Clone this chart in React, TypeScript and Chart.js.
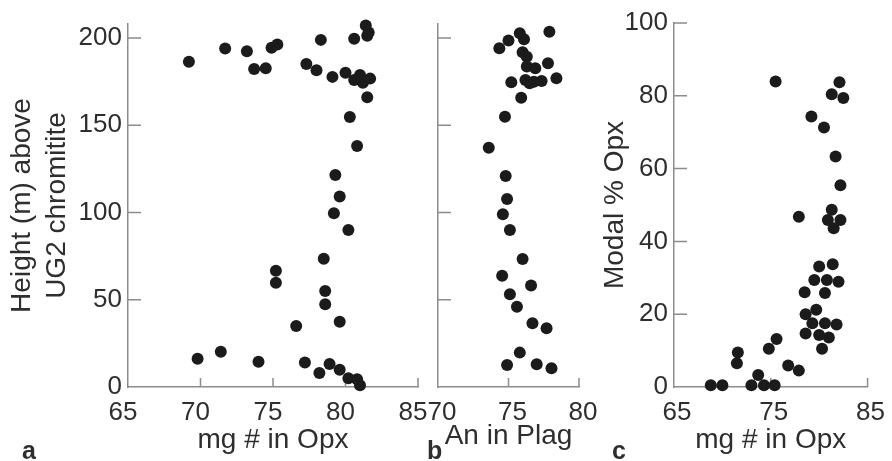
import React, { useEffect, useRef } from 'react';
import { Chart, registerables } from 'chart.js';

Chart.register(...registerables);

const FONT = '"Liberation Sans", Arial, Helvetica, sans-serif';
const TEXT = '#2e2e2e';
const AXIS = '#8c8c8c';
const DOT = '#1b1b1b';

// Panel a: mg # in Opx vs height (m) above UG2 chromitite
const aMg = [69.2, 71.7, 73.2, 73.7, 74.5, 74.9, 75.3, 77.3, 78.0, 78.3, 79.1, 80.6, 80.0, 81.4, 81.6, 81.5, 80.6, 81.0, 81.2, 81.7, 81.5, 80.3, 80.8, 79.3, 79.6, 79.2, 80.2, 75.2, 75.2, 78.5, 78.6, 78.6, 79.6, 76.6, 69.8, 71.4, 74.0, 77.2, 78.2, 78.9, 79.6, 80.2, 80.8, 81.0];
const aHeight = [186.4, 193.9, 192.4, 182.2, 182.6, 194.4, 196.2, 185.1, 181.5, 198.9, 177.7, 199.6, 180.1, 207.1, 203.2, 201.3, 175.9, 178.8, 174.4, 176.7, 166.0, 154.7, 138.1, 121.5, 109.1, 99.5, 90.0, 66.6, 59.8, 73.5, 55.0, 47.4, 37.4, 35.0, 16.2, 20.2, 14.5, 14.1, 8.0, 13.2, 9.9, 5.0, 4.4, 1.0];

// Panel b: An in Plag vs height
const bAn = [77.9, 75.8, 76.1, 75.0, 74.35, 76.0, 76.3, 77.8, 76.3, 76.9, 78.4, 75.2, 76.2, 76.8, 77.35, 76.5, 75.9, 74.75, 73.6, 74.8, 74.9, 74.6, 75.1, 76.0, 74.55, 76.6, 75.1, 75.6, 76.7, 77.7, 75.8, 74.9, 77.0, 78.05];
const bHeight = [203.6, 202.7, 199.3, 198.5, 194.1, 191.8, 189.3, 185.5, 183.6, 182.6, 176.9, 174.6, 175.9, 174.9, 175.4, 174.0, 165.8, 154.9, 137.1, 120.9, 107.7, 99.0, 90.0, 73.4, 63.8, 58.1, 53.1, 46.0, 36.5, 33.6, 19.7, 12.6, 13.0, 10.7];

// Panel c: mg # in Opx vs modal % Opx
const cMg = [75.5, 82.1, 81.3, 82.5, 79.2, 80.5, 81.7, 82.2, 77.9, 81.3, 80.9, 82.2, 81.5, 80.0, 81.4, 79.5, 80.8, 82.0, 80.6, 78.5, 78.6, 79.7, 79.3, 80.6, 81.8, 78.6, 80.0, 81.0, 80.3, 75.6, 74.8, 71.6, 71.5, 76.8, 77.9, 73.7, 68.8, 70.0, 73.0, 74.3, 75.4];
const cModal = [83.9, 83.7, 80.4, 79.4, 74.3, 71.3, 63.3, 55.4, 46.8, 48.7, 45.9, 45.9, 43.6, 33.1, 33.7, 29.4, 29.4, 28.9, 25.8, 26.0, 20.0, 21.2, 17.5, 17.5, 17.2, 14.7, 14.3, 13.6, 10.5, 13.2, 10.5, 9.5, 6.5, 5.9, 4.5, 3.3, 0.5, 0.5, 0.5, 0.5, 0.5];

// Tick values
const heightTicks = [0, 50, 100, 150, 200];
const mgTicksA = [65, 70, 75, 80, 85];
const anTicks = [70, 75, 80];
const mgTicksC = [65, 75, 85];
const modalTicks = [0, 20, 40, 60, 80, 100];

const inwardTicks = {
  id: 'inwardTicks',
  beforeDatasetsDraw(chart: any, _args: any, opts: any) {
    const ctx = chart.ctx;
    const xs = chart.scales.x;
    const ys = chart.scales.y;
    ctx.save();
    ctx.strokeStyle = AXIS;
    ctx.lineWidth = 1.5;
    ctx.beginPath();
    for (const v of opts.xValues || []) {
      const px = xs.getPixelForValue(v);
      ctx.moveTo(px, ys.bottom);
      ctx.lineTo(px, ys.bottom - opts.xLen);
    }
    for (const v of opts.yValues || []) {
      const py = ys.getPixelForValue(v);
      ctx.moveTo(xs.left, py);
      ctx.lineTo(xs.left + opts.yLen, py);
    }
    ctx.stroke();
    ctx.restore();
  },
  afterDraw(chart: any, _args: any, opts: any) {
    if (!opts.label) return;
    const ctx = chart.ctx;
    ctx.save();
    ctx.font = `bold 25px ${FONT}`;
    ctx.fillStyle = TEXT;
    ctx.textAlign = 'left';
    ctx.textBaseline = 'alphabetic';
    ctx.fillText(opts.label, opts.labelX, opts.labelY);
    ctx.restore();
  },
};

type PanelSpec = {
  xs: number[];
  ys: number[];
  xMin: number;
  xMax: number;
  yMin: number;
  yMax: number;
  xTicks: number[];
  yTicks: number[];
  xLabelOffset: number;
  showYLabels: boolean;
  yWidth: number;
  padding: { left: number; right: number; top: number; bottom: number };
  xTitle: string;
  xTitlePad: number;
  yTitle: string | string[] | null;
  yTitleLineHeight: number;
  tickMarksX: number[];
  tickMarksY: number[];
  label: string;
  labelX: number;
  labelY: number;
};

function makeConfig(p: PanelSpec): any {
  return {
    type: 'scatter',
    data: {
      datasets: [
        {
          data: p.xs.map((v, i) => ({ x: v, y: p.ys[i] })),
          backgroundColor: DOT,
          borderWidth: 0,
          pointRadius: 6,
          pointHoverRadius: 6,
          clip: false,
        },
      ],
    },
    options: {
      responsive: false,
      animation: false,
      events: [],
      layout: { padding: p.padding },
      plugins: {
        legend: { display: false },
        tooltip: { enabled: false },
        inwardTicks: {
          xValues: p.tickMarksX,
          yValues: p.tickMarksY,
          xLen: 9,
          yLen: 13,
          label: p.label,
          labelX: p.labelX,
          labelY: p.labelY,
        },
      },
      scales: {
        x: {
          type: 'linear',
          position: 'bottom',
          min: p.xMin,
          max: p.xMax,
          afterBuildTicks: (s: any) => {
            s.ticks = p.xTicks.map((v) => ({ value: v }));
          },
          afterFit: (s: any) => {
            s.height = 70;
          },
          grid: { display: false, drawTicks: false },
          border: { display: true, color: AXIS, width: 1.5 },
          ticks: {
            font: { family: FONT, size: 26 },
            color: TEXT,
            padding: 10,
            maxRotation: 0,
            autoSkip: false,
            labelOffset: p.xLabelOffset,
          },
          title: {
            display: true,
            text: p.xTitle,
            color: TEXT,
            font: { family: FONT, size: 28, lineHeight: 1.2 },
            padding: { top: 0, bottom: p.xTitlePad },
          },
        },
        y: {
          type: 'linear',
          position: 'left',
          min: p.yMin,
          max: p.yMax,
          afterBuildTicks: (s: any) => {
            s.ticks = p.yTicks.map((v) => ({ value: v }));
          },
          afterFit: (s: any) => {
            s.width = p.yWidth;
          },
          grid: { display: false, drawTicks: false },
          border: { display: true, color: AXIS, width: 1.5 },
          ticks: {
            display: p.showYLabels,
            font: { family: FONT, size: 26 },
            color: TEXT,
            padding: 6,
            autoSkip: false,
          },
          title: {
            display: !!p.yTitle,
            text: p.yTitle || '',
            color: TEXT,
            font: { family: FONT, size: 28, lineHeight: p.yTitleLineHeight },
            padding: { top: 4.5, bottom: 0 },
          },
        },
      },
    },
    plugins: [inwardTicks],
  };
}

const W = 892;
const H = 461;

const panels: PanelSpec[] = [
  {
    xs: aMg,
    ys: aHeight,
    xMin: 65,
    xMax: 85,
    yMin: 0,
    yMax: 208,
    xTicks: mgTicksA,
    yTicks: heightTicks,
    xLabelOffset: -5,
    showYLabels: true,
    yWidth: 128,
    padding: { left: 0, right: W - 418, top: 24, bottom: 4 },
    xTitle: 'mg # in Opx',
    xTitlePad: 0,
    yTitle: ['Height (m) above', 'UG2 chromitite'],
    yTitleLineHeight: 1.25,
    tickMarksX: [70, 75, 80, 85],
    tickMarksY: [50, 100, 150, 200],
    label: 'a',
    labelX: 22,
    labelY: 459,
  },
  {
    xs: bAn,
    ys: bHeight,
    xMin: 70,
    xMax: 80,
    yMin: 0,
    yMax: 208,
    xTicks: anTicks,
    yTicks: heightTicks,
    xLabelOffset: 4,
    showYLabels: false,
    yWidth: 10,
    padding: { left: 428, right: W - 579, top: 24, bottom: 4 },
    xTitle: 'An in Plag',
    xTitlePad: 4,
    yTitle: null,
    yTitleLineHeight: 1.2,
    tickMarksX: [75, 80],
    tickMarksY: [50, 100, 150, 200],
    label: 'b',
    labelX: 427,
    labelY: 459,
  },
  {
    xs: cMg,
    ys: cModal,
    xMin: 65,
    xMax: 85,
    yMin: 0,
    yMax: 100,
    xTicks: mgTicksC,
    yTicks: modalTicks,
    xLabelOffset: 3,
    showYLabels: true,
    yWidth: 80,
    padding: { left: 594, right: W - 872, top: 23, bottom: 4 },
    xTitle: 'mg # in Opx',
    xTitlePad: 0,
    yTitle: 'Modal % Opx',
    yTitleLineHeight: 1.2,
    tickMarksX: [75, 85],
    tickMarksY: [20, 40, 60, 80, 100],
    label: 'c',
    labelX: 612,
    labelY: 459,
  },
];

export default function App() {
  const refA = useRef<HTMLCanvasElement>(null);
  const refB = useRef<HTMLCanvasElement>(null);
  const refC = useRef<HTMLCanvasElement>(null);

  useEffect(() => {
    const refs = [refA, refB, refC];
    const charts = refs.map((r, i) => new Chart(r.current as HTMLCanvasElement, makeConfig(panels[i])));
    return () => {
      charts.forEach((c) => c.destroy());
    };
  }, []);

  const cs: React.CSSProperties = { position: 'absolute', left: 0, top: 0, width: W, height: H };
  return (
    <div style={{ position: 'absolute', left: 0, top: 0, width: W, height: H, background: '#fff' }}>
      <canvas ref={refA} width={W} height={H} style={cs} />
      <canvas ref={refB} width={W} height={H} style={cs} />
      <canvas ref={refC} width={W} height={H} style={cs} />
    </div>
  );
}
